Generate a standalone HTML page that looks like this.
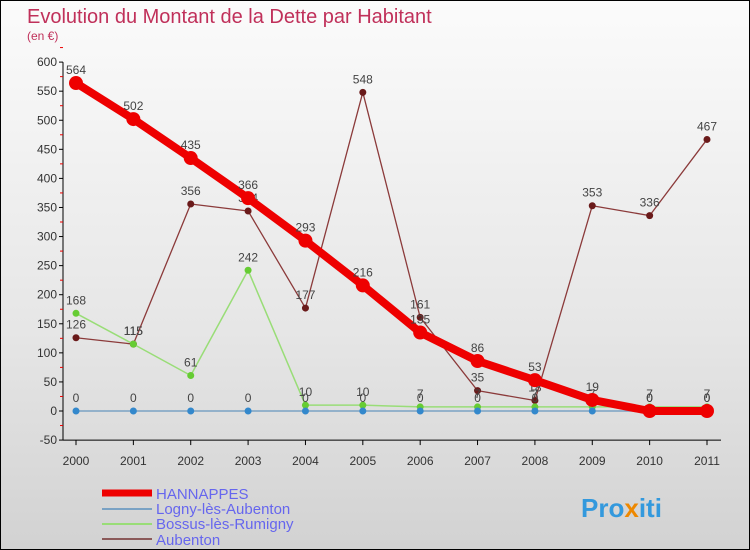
<!DOCTYPE html>
<html><head><meta charset="utf-8"><style>
body{margin:0;}
#c{width:748px;height:548px;border:1px solid #000;background:linear-gradient(#fbfbfb,#e6e6e6 60%,#d2d2d2);position:relative;font-family:"Liberation Sans",sans-serif;overflow:hidden}
svg text{font-family:"Liberation Sans",sans-serif}
</style></head><body>
<div id="c">
<svg id="s" width="748" height="548" xmlns="http://www.w3.org/2000/svg">
<text x="26" y="22" font-size="20" fill="#c0305a">Evolution du Montant de la Dette par Habitant</text>
<text x="26" y="39" font-size="12" fill="#c0305a">(en €)</text>
<g id="axes"></g><g id="series"></g>
<g>
<line x1="101" y1="492" x2="151" y2="492" stroke="#e00" stroke-width="7"/>
<text x="155" y="498" font-size="15" fill="#6666ee">HANNAPPES</text>
<line x1="101" y1="508" x2="151" y2="508" stroke="#7aa2c4" stroke-width="2"/>
<text x="155" y="513" font-size="15" fill="#6666ee">Logny-lès-Aubenton</text>
<line x1="101" y1="523" x2="151" y2="523" stroke="#99dd77" stroke-width="2"/>
<text x="155" y="528" font-size="15" fill="#6666ee">Bossus-lès-Rumigny</text>
<line x1="101" y1="538" x2="151" y2="538" stroke="#8b5a5a" stroke-width="2"/>
<text x="155" y="544" font-size="15" fill="#6666ee">Aubenton</text>
</g>
<text x="580" y="516" font-size="26" font-weight="bold" fill="#3399dd">Pro<tspan fill="#ee8800">x</tspan>iti</text>
</svg></div>
<script>
const years=["2000","2001","2002","2003","2004","2005","2006","2007","2008","2009","2010","2011"];
const yTicks=[-50,0,50,100,150,200,250,300,350,400,450,500,550,600];
const hannappes=[564,502,435,366,293,216,135,86,53,19,0,0];
const logny=[0,0,0,0,0,0,0,0,0,0,0,0];
const bossus=[168,115,61,242,10,10,7,7,7,7,7,7];
const aubenton=[126,115,356,344,177,548,161,35,18,353,336,467];
const NS="http://www.w3.org/2000/svg";
const X=i=>75+i*(706-75)/11;
const Y=v=>410-v*0.5815;
function mk(t,a,p){const e=document.createElementNS(NS,t);for(const k in a)e.setAttribute(k,a[k]);p.appendChild(e);return e;}
const ax=document.getElementById('axes');
const ya=mk('line',{x1:62,y1:Y(600),x2:62,y2:Y(-50),stroke:'#000'},ax);


const xa=mk('line',{x1:62,y1:Y(-50),x2:720,y2:Y(-50),stroke:'#000'},ax);


yTicks.forEach(v=>{
  mk('line',{x1:58,y1:Y(v),x2:62,y2:Y(v),stroke:'#000'},ax);
  mk('line',{x1:59,y1:Y(v+25),x2:62,y2:Y(v+25),stroke:'#e00'},ax);
  const t=mk('text',{x:56,y:Y(v)+4,'font-size':12,'text-anchor':'end',fill:'#333'},ax);
  t.textContent=v;
  
  
});
years.forEach((y,i)=>{
  mk('line',{x1:X(i),y1:Y(-50),x2:X(i),y2:Y(-50)+5,stroke:'#000'},ax);
  const t=mk('text',{x:X(i),y:464,'font-size':12,'text-anchor':'middle',fill:'#333'},ax);
  t.textContent=y;
  
  
});
const sg=document.getElementById('series');
function series(name,vals,color,w,r,dot){
  const g=mk('g',{},sg);
  
  
  const p=mk('polyline',{points:vals.map((v,i)=>X(i)+','+Y(v)).join(' '),fill:'none',stroke:color,'stroke-width':w,'stroke-linejoin':'round'},g);
  
  
  vals.forEach((v,i)=>{
    const c=mk('circle',{cx:X(i),cy:Y(v),r:r,fill:dot},g);
    
    
    const t=mk('text',{x:X(i),y:Y(v)-9,'font-size':12,'text-anchor':'middle',fill:'#444'},g);
    t.textContent=v;
    
    
  });
}
series('aubenton',aubenton,'#8b3a3a',1.3,3.5,'#6a1a1a');
series('bossus',bossus,'#99dd77',1.5,3.5,'#66cc33');
series('logny',logny,'#7aa2c4',1.5,3.5,'#3388cc');
series('hannappes',hannappes,'#ee0000',8,7,'#ee0000');
</script>
</body></html>
